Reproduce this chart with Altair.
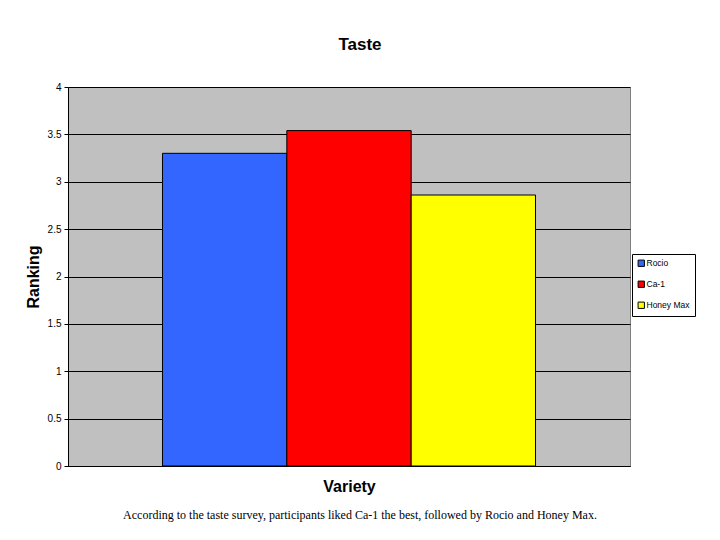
import altair as alt
import pandas as pd

varieties = ["Rocio", "Ca-1", "Honey Max"]
rankings = [3.30, 3.54, 2.86]
colors = ["#3366FF", "#FF0000", "#FFFF00"]
y_ticks = [0, 0.5, 1, 1.5, 2, 2.5, 3, 3.5, 4]
caption = "According to the taste survey, participants liked Ca-1 the best, followed by Rocio and Honey Max."

df = pd.DataFrame({"Variety": varieties, "Ranking": rankings})
cap_df = pd.DataFrame({"t": [caption]})

W, H = 562, 379
FONT = "Liberation Sans"

bars = alt.Chart(df).mark_bar(stroke="black", strokeWidth=1).encode(
    x=alt.X(
        "Variety:N",
        sort=varieties,
        scale=alt.Scale(paddingInner=0, paddingOuter=0.76),
        axis=alt.Axis(
            labels=False, ticks=False, title="Variety",
            titleFontSize=16, titleFont=FONT, titleFontWeight="bold",
            titleColor="black", titlePadding=12, domainColor="black",
            domainWidth=1,
        ),
    ),
    y=alt.Y(
        "Ranking:Q",
        scale=alt.Scale(domain=[0, 4]),
        axis=alt.Axis(
            values=y_ticks, format="~g", title="Ranking",
            titleFontSize=16, titleFont=FONT, titleFontWeight="bold",
            titleColor="black", titlePadding=6,
            labelFont=FONT, labelFontSize=10, labelColor="black",
            labelPadding=3, tickSize=4, tickColor="black",
            domainColor="black", gridColor="black", gridOpacity=1,
            grid=True,
        ),
    ),
    color=alt.Color(
        "Variety:N",
        sort=varieties,
        scale=alt.Scale(domain=varieties, range=colors),
        legend=alt.Legend(
            title=None, orient="none", legendX=564, legendY=167,
            strokeColor="black", fillColor="white", padding=5,
            symbolType="square", symbolSize=40, symbolStrokeColor="black",
            symbolStrokeWidth=1, symbolOpacity=1,
            labelFont=FONT, labelFontSize=8.5, labelColor="black",
            rowPadding=10, labelOffset=1,
        ),
    ),
)

cap = alt.Chart(cap_df).mark_text(
    font="Liberation Serif", fontSize=12, color="black"
).encode(text="t:N", x=alt.value(292), y=alt.value(428))

chart = alt.layer(bars, cap).properties(
    width=W, height=H,
    title=alt.Title("Taste", fontSize=17, font=FONT, fontWeight="bold",
                    color="black", offset=28, dx=11),
    padding={"left": 60, "top": 79, "right": 82, "bottom": 66},
    autosize=alt.AutoSizeParams(type="none"),
    background="white",
).configure_view(fill="#C0C0C0", stroke="#808080", strokeWidth=1)

chart.save("out.html", embed_options={"renderer": "svg", "actions": False})
